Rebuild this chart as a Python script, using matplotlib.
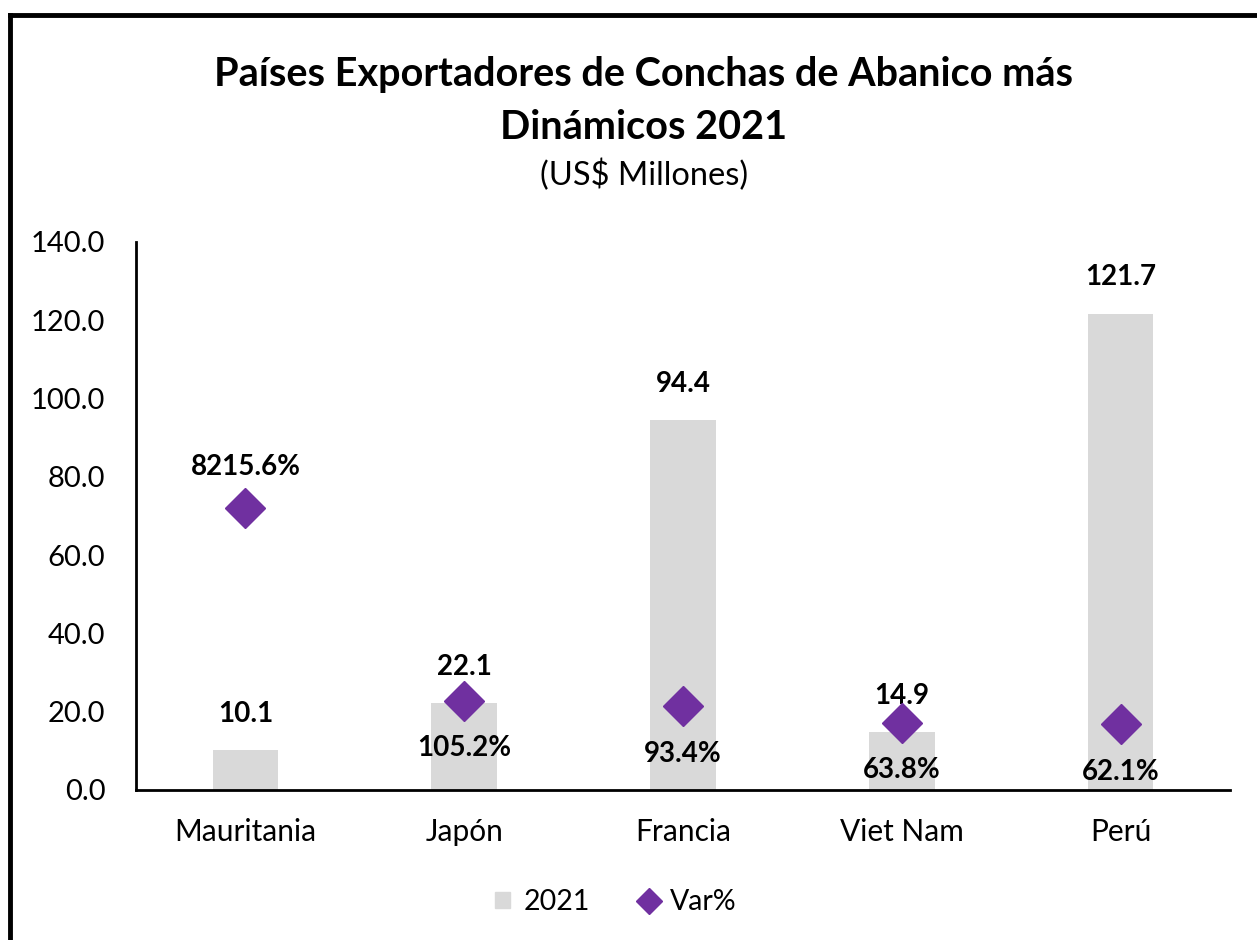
import numpy as np
import matplotlib.pyplot as plt
from matplotlib.lines import Line2D

plt.rcParams['font.family'] = ['Lato', 'DejaVu Sans']

# datos
paises = ['Mauritania', 'Japón', 'Francia', 'Viet Nam', 'Perú']
valores_2021 = [10.1, 22.1, 94.4, 14.9, 121.7]
var_pct = [8215.6, 105.2, 93.4, 63.8, 62.1]
yticks = [0, 20, 40, 60, 80, 100, 120, 140]

gris = '#D9D9D9'
morado = '#7030A0'

fig = plt.figure(figsize=(12.57, 9.4), dpi=100)
ax = fig.add_axes([0.1082, 0.1596, 0.8703, 0.583])
x = np.arange(len(paises))

ax.bar(x, valores_2021, width=0.30, color=gris, label='2021', zorder=2)
ax.set_xlim(-0.5, 4.5)
ax.set_ylim(0, 140)
ax.set_yticks(yticks)
ax.set_yticklabels([f'{v:.1f}' for v in yticks], fontsize=21)
ax.set_xticks(x)
ax.set_xticklabels(paises, fontsize=21.5)
ax.tick_params(axis='x', length=0, pad=20)
ax.tick_params(axis='y', length=0, pad=22)
for s in ['top', 'right']:
    ax.spines[s].set_visible(False)
ax.spines['left'].set_linewidth(2)
ax.spines['bottom'].set_linewidth(2)

for xi, v in zip(x, valores_2021):
    ax.annotate(f'{v:.1f}', (xi, v), xytext=(0, 26), textcoords='offset points',
                ha='center', va='center', fontsize=20, fontweight='bold', zorder=5)

# eje secundario (log, oculto)
ax2 = ax.twinx()
ax2.set_yscale('log')
ax2.set_ylim(10 ** 1.15, 10 ** 6.53)
ax2.axis('off')
ax2.plot(x, var_pct, linestyle='none', marker='D', markersize=20,
         color=morado, label='Var%', zorder=3)
for i, (xi, v) in enumerate(zip(x, var_pct)):
    dy = 30 if i == 0 else -34
    ax2.annotate(f'{v:.1f}%', (xi, v), xytext=(0, dy), textcoords='offset points',
                 ha='center', va='center', fontsize=20, fontweight='bold')

fig.text(0.512, 0.921, 'Países Exportadores de Conchas de Abanico más',
         ha='center', va='center', fontsize=28.5, fontweight='bold')
fig.text(0.512, 0.864, 'Dinámicos 2021', ha='center', va='center',
         fontsize=28.5, fontweight='bold')
fig.text(0.512, 0.814, '(US$ Millones)', ha='center', va='center', fontsize=23.5)

handles = [plt.Rectangle((0, 0), 1, 1, color=gris),
           Line2D([], [], linestyle='none', marker='D', markersize=13, color=morado)]
fig.legend(handles, ['2021', 'Var%'], loc='center', bbox_to_anchor=(0.49, 0.04),
           ncol=2, frameon=False, fontsize=20.5, handlelength=0.5, handleheight=0.5,
           columnspacing=1.8, handletextpad=0.5)

# marco
fig.add_artist(Line2D([0.008, 1.0], [0.984, 0.984], color='black', linewidth=3.5,
                      transform=fig.transFigure))
fig.add_artist(Line2D([0.008, 0.008], [0.0, 0.984], color='black', linewidth=3.5,
                      transform=fig.transFigure))

fig.savefig('out.png', dpi=100)
